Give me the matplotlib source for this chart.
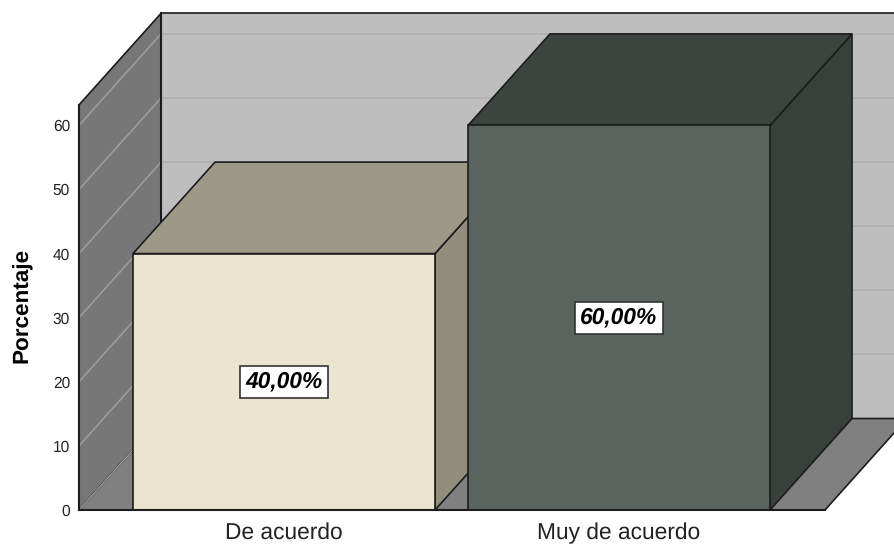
import matplotlib
matplotlib.use("Agg")
import matplotlib.pyplot as plt
from matplotlib.patches import Polygon

categories = ["De acuerdo", "Muy de acuerdo"]
porcentajes = [40, 60]
etiquetas = ["40,00%", "60,00%"]
y_ticks = [0, 10, 20, 30, 40, 50, 60]

caras_frente = ["#EBE5D0", "#5A635D"]
caras_arriba = ["#9C9988", "#3D443F"]
caras_lado = ["#918E7E", "#393F3B"]

PX_X = 335.0          # pixels between categories
PX_Y = 6.41           # pixels per percent
DX = 82 / PX_X        # depth of the 3D box
DY = 91.5 / PX_Y
ANCHO = 302 / PX_X
Y_TOP = 63.2
X_MIN = -205 / PX_X
X_FRONT = 541 / PX_X  # right end of the front floor edge
X_MAX = 610 / PX_X
LINEA = "#1c1c1c"

plt.rcParams["font.family"] = ["Liberation Sans", "DejaVu Sans"]
plt.rcParams["text.hinting"] = "no_hinting"

fig = plt.figure(figsize=(8.94, 5.44), dpi=100, facecolor="white")
ax = fig.add_axes([79 / 894, 34 / 544, 815 / 894, 510 / 544])
ax.set_xlim(X_MIN, X_MAX)
ax.set_ylim(0, 510 / PX_Y)
ax.patch.set_visible(False)


def _poly(pts, color, z, lw=1.2, edge=LINEA):
    ax.add_patch(Polygon(pts, closed=True, facecolor=color, edgecolor=edge,
                         linewidth=lw, zorder=z, clip_on=False, joinstyle="miter"))


# walls and floor
_poly([(X_MIN + DX, DY), (X_FRONT + DX, DY), (X_FRONT + DX, Y_TOP + DY), (X_MIN + DX, Y_TOP + DY)],
      "#BEBEBE", 1)
_poly([(X_MIN, 0), (X_MIN + DX, DY), (X_MIN + DX, Y_TOP + DY), (X_MIN, Y_TOP)], "#777777", 1)
_poly([(X_MIN, 0), (X_FRONT, 0), (X_FRONT + DX, DY), (X_MIN + DX, DY)], "#808080", 1)

# grid on both walls
for t in y_ticks[1:]:
    ax.plot([X_MIN + DX, X_FRONT + DX], [t + DY, t + DY], color="#B0B0B0", lw=1.2, zorder=2, clip_on=False)
    ax.plot([X_MIN, X_MIN + DX], [t, t + DY], color="#9C9C9C", lw=1.2, zorder=2, clip_on=False)
ax.plot([X_MIN, X_MIN + DX], [0, DY], color="#A0A0A0", lw=1.0, zorder=2, clip_on=False)
ax.plot([X_MIN + DX, X_MIN + DX], [DY, Y_TOP + DY], color=LINEA, lw=1.5, zorder=2)

# bars
for i, v in enumerate(porcentajes):
    x0 = i - ANCHO / 2
    x1 = i + ANCHO / 2
    z = 3 + i
    _poly([(x1, 0), (x1 + DX, DY), (x1 + DX, v + DY), (x1, v)], caras_lado[i], z)
    _poly([(x0, v), (x1, v), (x1 + DX, v + DY), (x0 + DX, v + DY)], caras_arriba[i], z)
    ax.bar(i, v, width=ANCHO, color=caras_frente[i], edgecolor=LINEA, linewidth=1.2, zorder=z, clip_on=False)
    ax.text(i, v / 2, etiquetas[i], ha="center", va="center", fontsize=16.4,
            fontweight="bold", fontstyle="italic", color="black", zorder=6,
            bbox=dict(boxstyle="square,pad=0.24", facecolor="white", edgecolor="#333333", linewidth=1.2))

for s in ["top", "right"]:
    ax.spines[s].set_visible(False)
ax.spines["left"].set_bounds(0, Y_TOP)
ax.spines["bottom"].set_bounds(X_MIN, X_FRONT)
for s in ["left", "bottom"]:
    ax.spines[s].set_color(LINEA)
    ax.spines[s].set_linewidth(1.5)
    ax.spines[s].set_zorder(7)

ax.set_xticks(range(len(categories)))
ax.set_xticklabels(categories, fontsize=16.4, color="#222222")
ax.set_yticks(y_ticks)
ax.tick_params(axis="x", length=0, pad=9)
ax.tick_params(axis="y", length=0, pad=6.5, labelsize=11.2, labelcolor="#222222")
ax.set_ylabel("Porcentaje", fontsize=16.2, fontweight="bold", color="black")
ax.yaxis.set_label_coords(-46 / 815, 205 / 510)

fig.savefig("out.png", dpi=100)
